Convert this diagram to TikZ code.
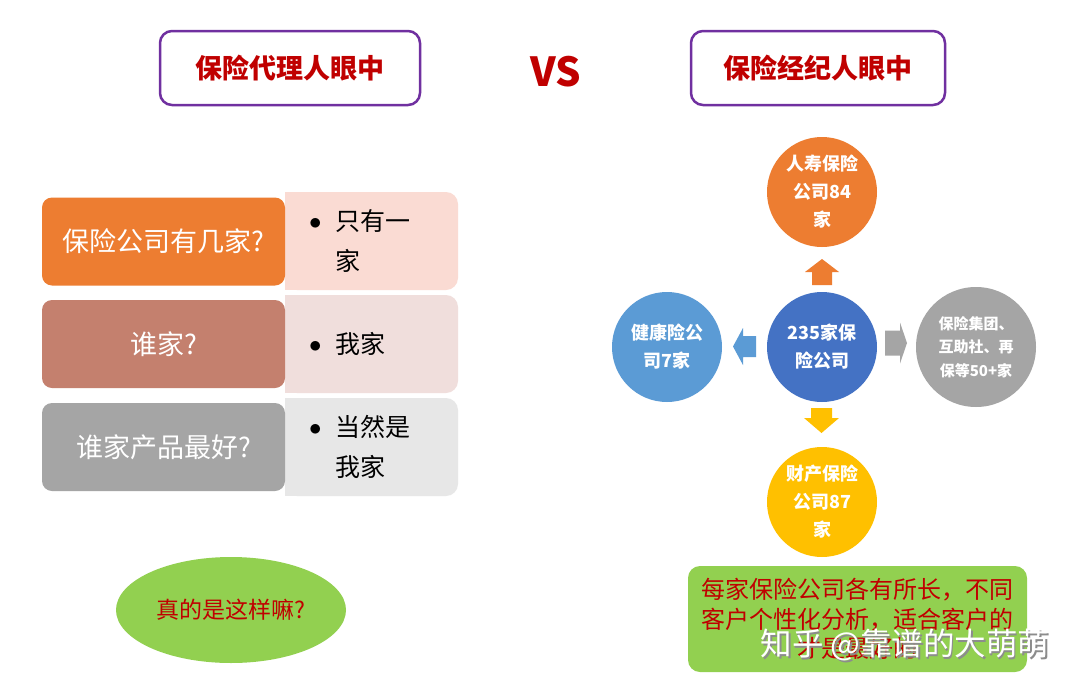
\documentclass[tikz,border=0pt]{standalone}
\usepackage{fontspec}
\setmainfont{Noto Sans CJK SC}
\usetikzlibrary{shapes.geometric,positioning}

\definecolor{titlered}{HTML}{C00000}
\definecolor{framepurple}{HTML}{7030A0}
\definecolor{qorange}{HTML}{ED7D31}
\definecolor{qrose}{HTML}{C4806E}
\definecolor{qgray}{HTML}{A5A5A5}
\definecolor{apeach}{HTML}{FADBD3}
\definecolor{arose}{HTML}{F0DEDC}
\definecolor{agray}{HTML}{E7E7E7}
\definecolor{hubblue}{HTML}{4472C4}
\definecolor{healthblue}{HTML}{5B9BD5}
\definecolor{propgold}{HTML}{FFC000}
\definecolor{leafgreen}{HTML}{92D050}

\newcommand{\ansbullet}{\makebox[30pt][l]{\hspace{4pt}\raisebox{1pt}{$\bullet$}}}

\begin{document}
\begin{tikzpicture}[x=1pt, y=-1pt,
  titlebox/.style={draw=framepurple, line width=2.5pt, rounded corners=12pt,
    fill=white, minimum height=74pt, text=titlered,
    font=\fontsize{27}{30}\selectfont\bfseries},
  question/.style={fill=#1, rounded corners=10pt, minimum width=243pt,
    minimum height=88pt, text=white, font=\fontsize{27}{30}\selectfont},
  answer/.style={fill=#1, rounded corners=12pt, minimum width=173pt,
    minimum height=98pt, text width=133pt, inner xsep=20pt, align=left,
    font=\fontsize{25}{40}\selectfont},
  firm/.style={circle, fill=#1, minimum size=110pt, inner sep=0pt,
    text=white, align=center, font=\fontsize{18}{28}\selectfont\bfseries},
  note/.style={fill=leafgreen, text=titlered, align=center}
]
\useasboundingbox (0,0) rectangle (1080,691);
\fill[white] (0,0) rectangle (1080,691);

% headings
\node[titlebox, minimum width=260pt] (agent) at (290,68) {保险代理人眼中};
\node[text=titlered, font=\fontsize{40}{44}\selectfont\bfseries] (vs) at (556,72) {VS};
\node[titlebox, minimum width=254pt] (broker) at (818,68) {保险经纪人眼中};

% left: questions and answers
\node[answer=apeach] (ans1) at (371.5,241) {\ansbullet 只有一\\\hspace*{30pt}家};
\node[answer=arose] (ans2) at (371.5,344) {\ansbullet 我家};
\node[answer=agray] (ans3) at (371.5,447) {\ansbullet 当然是\\\hspace*{30pt}我家};
\fill[apeach] (ans1.north west) rectangle ([xshift=14pt]ans1.south west);
\fill[arose] (ans2.north west) rectangle ([xshift=14pt]ans2.south west);
\fill[agray] (ans3.north west) rectangle ([xshift=14pt]ans3.south west);

\node[question=qorange] (q1) at (163.5,241.5) {保险公司有几家?};
\node[question=qrose] (q2) at (163.5,344) {谁家?};
\node[question=qgray] (q3) at (163.5,447) {谁家产品最好?};

\node[note, ellipse, minimum width=230pt, minimum height=106pt,
  font=\fontsize{23}{26}\selectfont] (doubt) at (231,610) {真的是这样嘛?};

% right: the market
\node[firm=hubblue] (hub) at (822,347) {235家保\\险公司};
\node[firm=qorange] (life) at (822,192) {人寿保险\\公司84\\家};
\node[firm=propgold] (prop) at (822,502) {财产保险\\公司87\\家};
\node[firm=healthblue] (health) at (667,347) {健康险公\\司7家};
\node[firm=qgray, minimum size=120pt, font=\fontsize{15}{23.5}\selectfont\bfseries] (group) at (976,347) {保险集团、\\互助社、再\\保等50+家};

% block arrows out of the hub
\fill[qorange, shift={(822,272)}] (-10,13) -- (-10,0) -- (-17,0) -- (0,-13) -- (17,0) -- (10,0) -- (10,13) -- cycle;
\fill[propgold, shift={(821.5,418)}] (-10.5,-10) -- (-10.5,0) -- (-17.5,0) -- (0,15) -- (17.5,0) -- (10.5,0) -- (10.5,-10) -- cycle;
\fill[healthblue, shift={(743,346.5)}] (13,-10.5) -- (0,-10.5) -- (0,-18.5) -- (-10,0) -- (0,18.5) -- (0,10.5) -- (13,10.5) -- cycle;
\fill[qgray, shift={(900,343)}] (-15,-12.5) -- (0,-12.5) -- (0,-20.5) -- (7,0) -- (0,20.5) -- (0,12.5) -- (-15,12.5) -- cycle;

\node[note, rounded corners=12pt, minimum width=339pt, minimum height=106pt,
  text width=324pt, font=\fontsize{24}{29.5}\selectfont] (advice) at (857.5,619)
  {每家保险公司各有所长，不同\\客户个性化分析，适合客户的\\才是最好的};

% site mark
\node[text=black!45, font=\fontsize{31.5}{34}\selectfont] (markshadow) at (906.5,646.5) {知乎 @靠谱的大萌萌};
\node[text=white, font=\fontsize{31.5}{34}\selectfont] (mark) at (905,645) {知乎 @靠谱的大萌萌};
\end{tikzpicture}
\end{document}
